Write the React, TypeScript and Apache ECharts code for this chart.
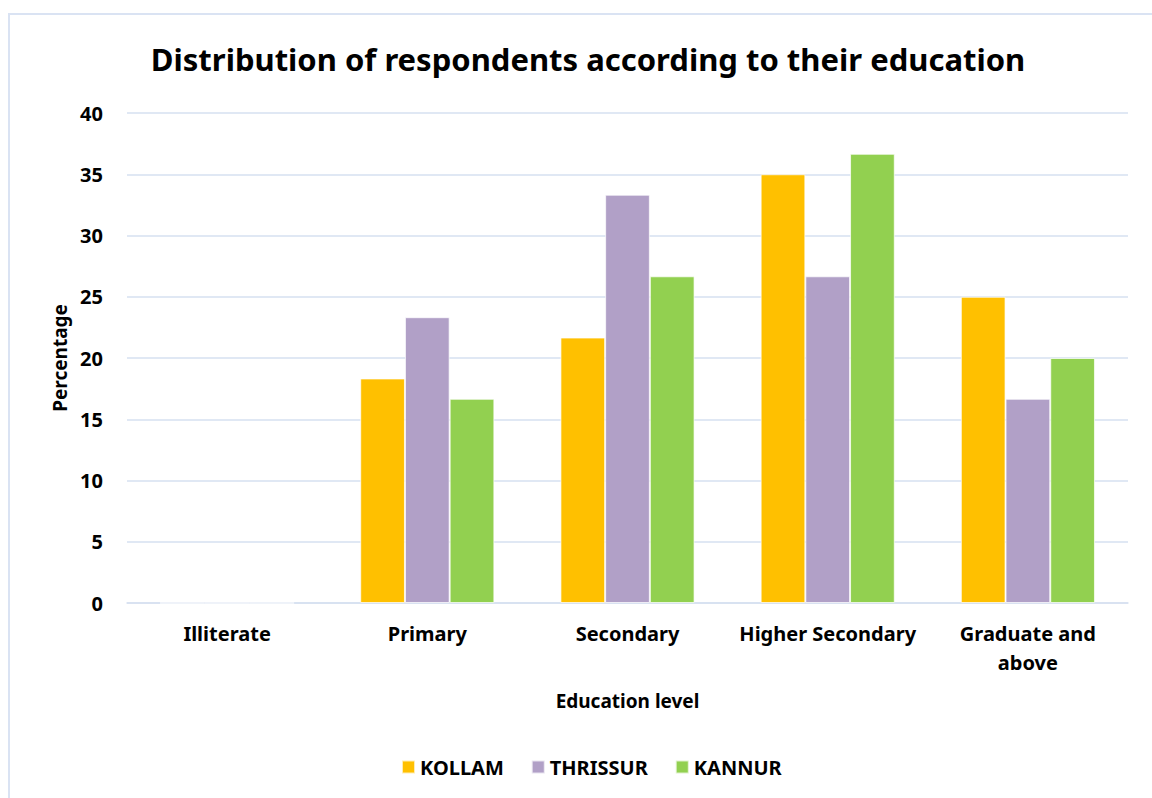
import React, { useEffect, useRef } from "react";
import * as echarts from "echarts";

const categories = ["Illiterate", "Primary", "Secondary", "Higher Secondary", "Graduate and\nabove"];
const kollam = [0, 18.33, 21.67, 35, 25];
const thrissur = [0, 23.33, 33.33, 26.67, 16.67];
const kannur = [0, 16.67, 26.67, 36.67, 20];
const yTicks = { min: 0, max: 40, interval: 5 };

const FONT = "'Noto Sans', 'Open Sans', sans-serif";

export default function App() {
  const ref = useRef<HTMLDivElement>(null);
  useEffect(() => {
    if (!ref.current) return;
    const chart = echarts.init(ref.current, undefined, { renderer: "svg" });
    const barStyle = (color: string) => ({
      color,
      borderColor: "rgba(255,255,255,0.7)",
      borderWidth: 1,
    });
    chart.setOption({
      animation: false,
      backgroundColor: "#ffffff",
      textStyle: { fontFamily: FONT },
      title: {
        text: "Distribution of respondents according to their education",
        left: 583,
        top: 38,
        textAlign: "center",
        textStyle: { fontFamily: FONT, fontSize: 31, fontWeight: "bold", color: "#000" },
      },
      graphic: [
        {
          type: "rect",
          shape: { x: 9, y: 14, width: 1300, height: 900 },
          style: { fill: "none", stroke: "#DAE3F3", lineWidth: 2 },
          silent: true,
        },
      ],
      legend: {
        bottom: 16,
        left: 396,
        itemWidth: 13,
        itemHeight: 13,
        itemGap: 27,
        icon: "rect",
        textStyle: { fontFamily: FONT, fontSize: 20, fontWeight: "bold", color: "#000" },
        data: ["KOLLAM", "THRISSUR", "KANNUR"],
      },
      grid: { left: 127, right: 24, top: 113, bottom: 195, containLabel: false },
      xAxis: {
        type: "category",
        data: categories,
        name: "Education level",
        nameLocation: "middle",
        nameGap: 88,
        nameTextStyle: { fontFamily: FONT, fontSize: 19, fontWeight: "bold", color: "#000" },
        axisLine: { lineStyle: { color: "#D6E0F0", width: 1.5 } },
        axisTick: { show: false },
        axisLabel: {
          fontFamily: FONT,
          fontSize: 20,
          fontWeight: "bold",
          color: "#000",
          margin: 16,
          lineHeight: 29,
          interval: 0,
        },
      },
      yAxis: {
        type: "value",
        min: yTicks.min,
        max: yTicks.max,
        interval: yTicks.interval,
        name: "Percentage",
        nameLocation: "middle",
        nameGap: 58,
        nameRotate: 90,
        nameTextStyle: { fontFamily: FONT, fontSize: 19, fontWeight: "bold", color: "#000" },
        axisLine: { show: false },
        axisTick: { show: false },
        axisLabel: { fontFamily: FONT, fontSize: 20, fontWeight: "bold", color: "#000", margin: 24 },
        splitLine: { lineStyle: { color: "#D6E0F0", width: 1.5 } },
      },
      series: [
        { name: "KOLLAM", type: "bar", data: kollam, itemStyle: barStyle("#FFC000"), barGap: "0%", barCategoryGap: "33%" },
        { name: "THRISSUR", type: "bar", data: thrissur, itemStyle: barStyle("#B1A0C7"), barGap: "0%", barCategoryGap: "33%" },
        { name: "KANNUR", type: "bar", data: kannur, itemStyle: barStyle("#92D050"), barGap: "0%", barCategoryGap: "33%" },
      ],
    });
    return () => chart.dispose();
  }, []);
  return (
    <div
      ref={ref}
      style={{ position: "fixed", left: 0, top: 0, width: 1152, height: 798, background: "#fff" }}
    />
  );
}
